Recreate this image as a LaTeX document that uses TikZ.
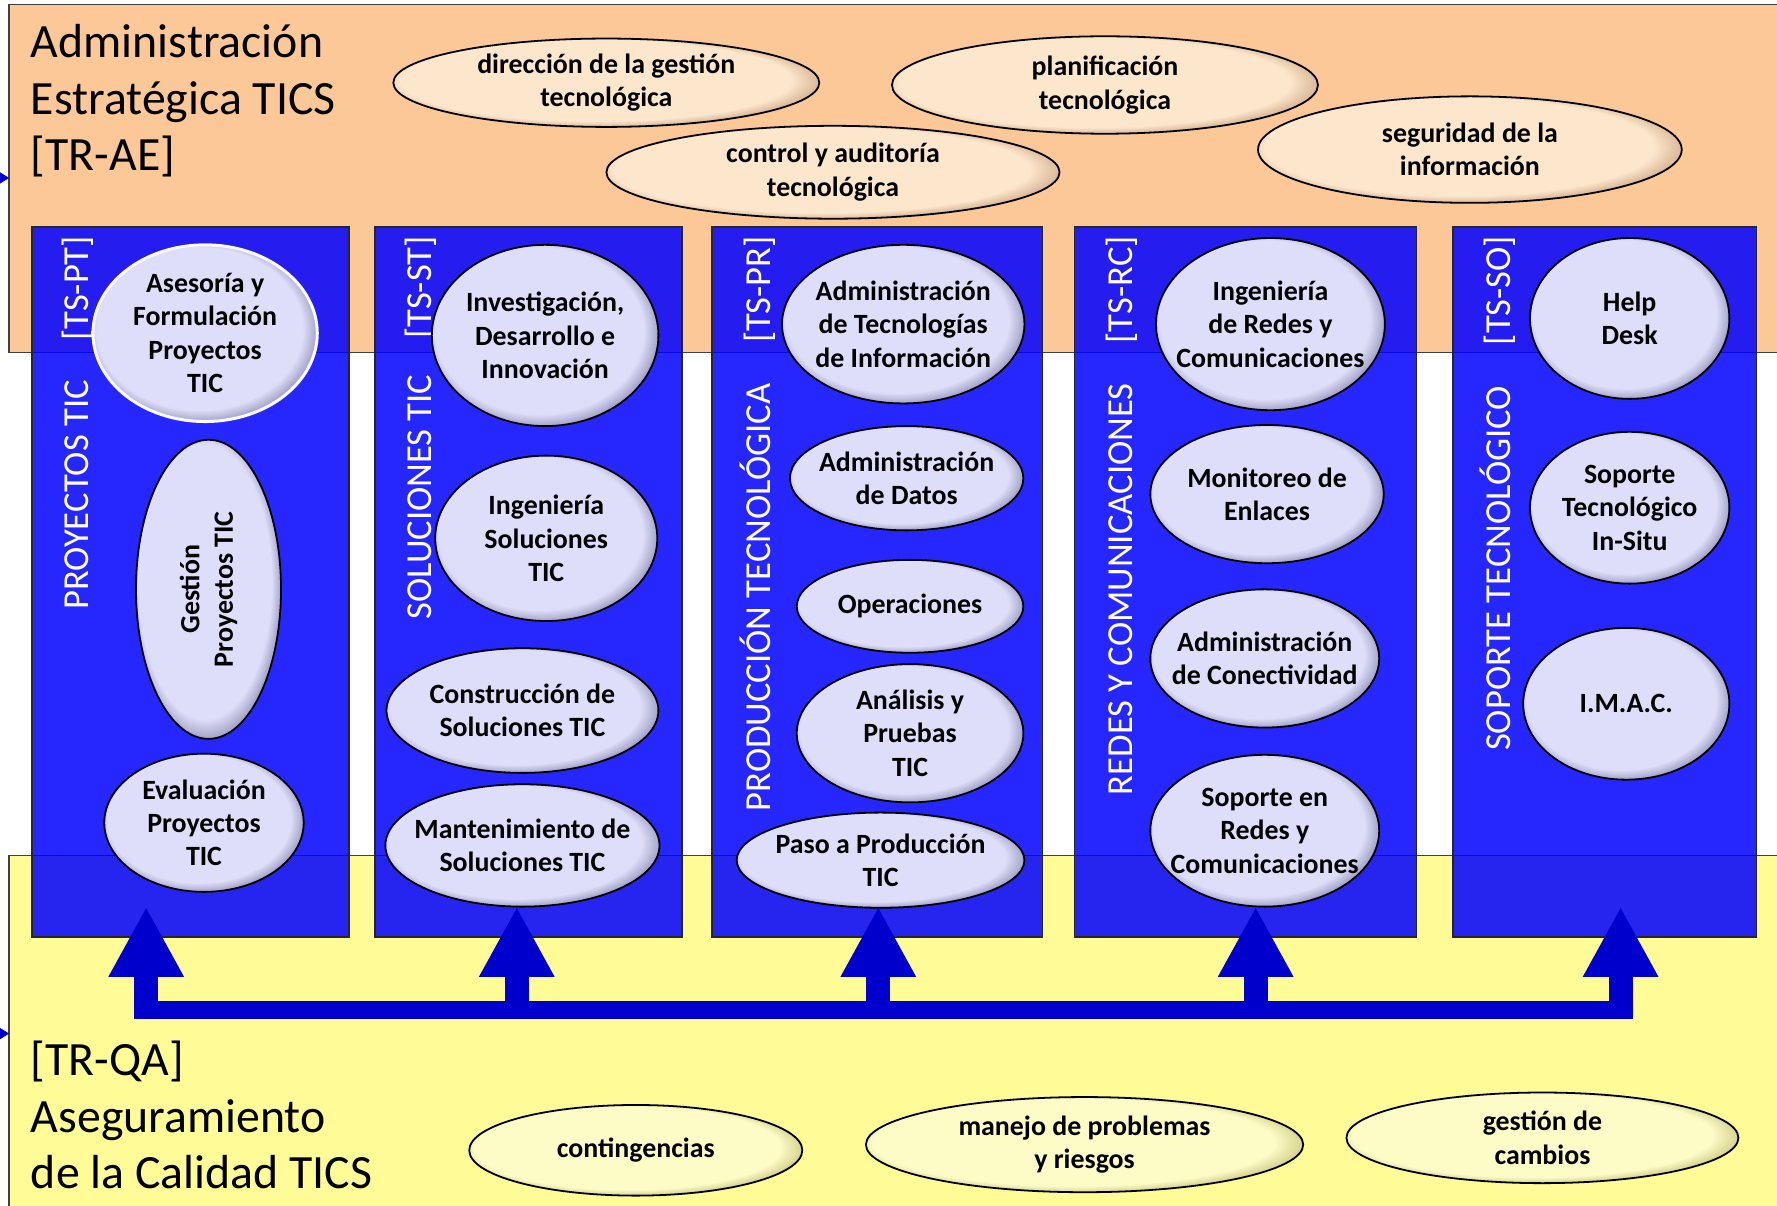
\documentclass[tikz,border=0pt]{standalone}
\usepackage{fontspec}
\setmainfont{Carlito}
\usetikzlibrary{shapes.geometric,arrows.meta}

\definecolor{aeorange}{RGB}{252,200,152}
\definecolor{qayellow}{RGB}{255,251,150}
\definecolor{colblue}{RGB}{0,0,255}
\definecolor{busblue}{RGB}{0,0,204}
\definecolor{lav}{RGB}{222,222,250}
\definecolor{lavrim}{RGB}{125,125,165}
\definecolor{peach}{RGB}{252,230,204}
\definecolor{peachrim}{RGB}{195,155,118}
\definecolor{lemon}{RGB}{253,251,198}
\definecolor{lemonrim}{RGB}{190,185,110}

\pgfdeclareradialshading{glossylav}{\pgfpoint{-3bp}{3bp}}{color(0bp)=(lav); color(23bp)=(lav); color(28bp)=(lavrim); color(40bp)=(lavrim)}
\pgfdeclareradialshading{glossypeach}{\pgfpoint{-3bp}{3bp}}{color(0bp)=(peach); color(23bp)=(peach); color(28bp)=(peachrim); color(40bp)=(peachrim)}
\pgfdeclareradialshading{glossylemon}{\pgfpoint{-3bp}{3bp}}{color(0bp)=(lemon); color(23bp)=(lemon); color(28bp)=(lemonrim); color(40bp)=(lemonrim)}

\begin{document}
\begin{tikzpicture}[x=0.02cm, y=-0.02cm,
  bigtext/.style={font=\fontsize{24}{28.5}\selectfont, align=left, anchor=north west, inner sep=0},
  zone/.style={draw=black!75, line width=0.6pt},
  column/.style={draw=black!85, line width=0.8pt, fill=colblue, fill opacity=0.85, minimum height=12.54cm, inner sep=0},
  coltext/.style={text=white, font=\fontsize{18.4}{22}\selectfont, rotate=90, anchor=base east, inner sep=0},
  eli/.style 2 args={ellipse, inner sep=-5mm, minimum width=#1*0.04cm, minimum height=#2*0.04cm},
  task/.style={draw=black, line width=0.9pt, shade, shading=glossylav, align=center, font=\fontsize{14}{16.8}\selectfont\bfseries},
  strat/.style={task, shading=glossypeach},
  quality/.style={task, shading=glossylemon},
  busline/.style={draw=busblue, line width=0.31cm},
  bus/.style={draw=busblue, line width=0.42cm, -{Triangle[length=1.24cm,width=1.24cm]}}
]
\useasboundingbox (0,0) rectangle (1568,1064);

\draw[zone, fill=aeorange] (8,4) rectangle (1600,311);
\draw[zone, fill=qayellow] (8,755) rectangle (1600,1100);
\fill[busblue] (0,152) -- (8,157) -- (0,162) -- cycle;
\fill[busblue] (0,907) -- (8,912) -- (0,917) -- cycle;

\node[bigtext] (ae) at (27,21) {Administración\\Estratégica TICS\\{[TR-AE]}};
\node[bigtext] (qa) at (27,918) {{[TR-QA]}\\Aseguramiento\\de la Calidad TICS};

\node[strat, eli={188}{39}] (dir) at (535,73) {dirección de la gestión\\tecnológica};
\node[strat, eli={188}{43}] (plan) at (975,75) {planificación\\tecnológica};
\node[strat, eli={200}{41}] (ctrl) at (735,152) {control y auditoría\\tecnológica};
\node[strat, eli={187}{47}] (seg) at (1297,132) {seguridad de la\\información};

\node[quality, eli={147}{40}] (cont) at (561,1015) {contingencias};
\node[quality, eli={193}{42}] (prob) at (957,1010) {manejo de problemas\\y riesgos};
\node[quality, eli={173}{40}] (camb) at (1361,1004) {gestión de\\cambios};

\node[column, minimum width=5.6cm] (pt) at (168,513.5) {};
\node[column, minimum width=5.42cm] (st) at (466.5,513.5) {};
\node[column, minimum width=5.84cm] (pr) at (774,513.5) {};
\node[column, minimum width=6.04cm] (rc) at (1099,513.5) {};
\node[column, minimum width=5.36cm] (so) at (1416,513.5) {};

\foreach \x/\tag/\name/\top in {78/PT/PROYECTOS TIC/335, 381/ST/SOLUCIONES TIC/330, 680/PR/PRODUCCIÓN TECNOLÓGICA/338, 999/RC/REDES Y COMUNICACIONES/338, 1333/SO/SOPORTE TECNOLÓGICO/340}{
  \node[coltext] at (\x,208) {[TS-\tag]};
  \node[coltext] at (\x,\top) {\name};
}

\node[task, eli={99}{78}, draw=white!85!lav, line width=1.5pt] (afp) at (181,294) {Asesoría y\\Formulación\\Proyectos\\TIC};
\node[task, eli={132}{64}, rotate=90] (gpt) at (184,520) {Gestión\\Proyectos TIC};
\node[task, eli={88}{61}] (ept) at (180,726) {Evaluación\\Proyectos\\TIC};

\node[task, eli={100}{80}] (idi) at (481,296) {Investigación,\\Desarrollo e\\Innovación};
\node[task, eli={98}{73}] (ist) at (482,475) {Ingeniería\\Soluciones\\TIC};
\node[task, eli={120}{55}] (cst) at (461,627) {Construcción de\\Soluciones TIC};
\node[task, eli={121}{54}] (mst) at (461,746) {Mantenimiento de\\Soluciones TIC};

\node[task, eli={107}{70}] (ati) at (797,286) {Administración\\de Tecnologías\\de Información};
\node[task, eli={103}{46}] (adt) at (800,422) {Administración\\de Datos};
\node[task, eli={100}{41}] (ops) at (803,535) {Operaciones};
\node[task, eli={100}{61}] (apt) at (803,647) {Análisis y\\Pruebas\\TIC};
\node[task, eli={127}{42}] (ppt) at (777,759) {Paso a Producción\\TIC};

\node[task, eli={101}{76}] (irc) at (1121,286) {Ingeniería\\de Redes y\\Comunicaciones};
\node[task, eli={103}{61}] (mde) at (1118,436) {Monitoreo de\\Enlaces};
\node[task, eli={101}{61}] (acn) at (1116,581) {Administración\\de Conectividad};
\node[task, eli={101}{67}] (src) at (1116,733) {Soporte en\\Redes y\\Comunicaciones};

\node[task, eli={88}{71}] (hd) at (1438,281) {Help\\Desk};
\node[task, eli={88}{67}] (sti) at (1438,448) {Soporte\\Tecnológico\\In-Situ};
\node[task, eli={91}{67}] (imac) at (1435,621) {I.M.A.C.};

\coordinate (tiprow) at (0,800);
\coordinate (busw) at (118,891);
\coordinate (buse) at (1441,891);
\foreach \x [count=\i] in {129,456,775,1108,1430}
  \coordinate (foot\i) at (\x,899);
\draw[busline] (busw) -- (buse);
\foreach \i in {1,...,5}
  \draw[bus] (foot\i) -- (foot\i |- tiprow);
\end{tikzpicture}
\end{document}
